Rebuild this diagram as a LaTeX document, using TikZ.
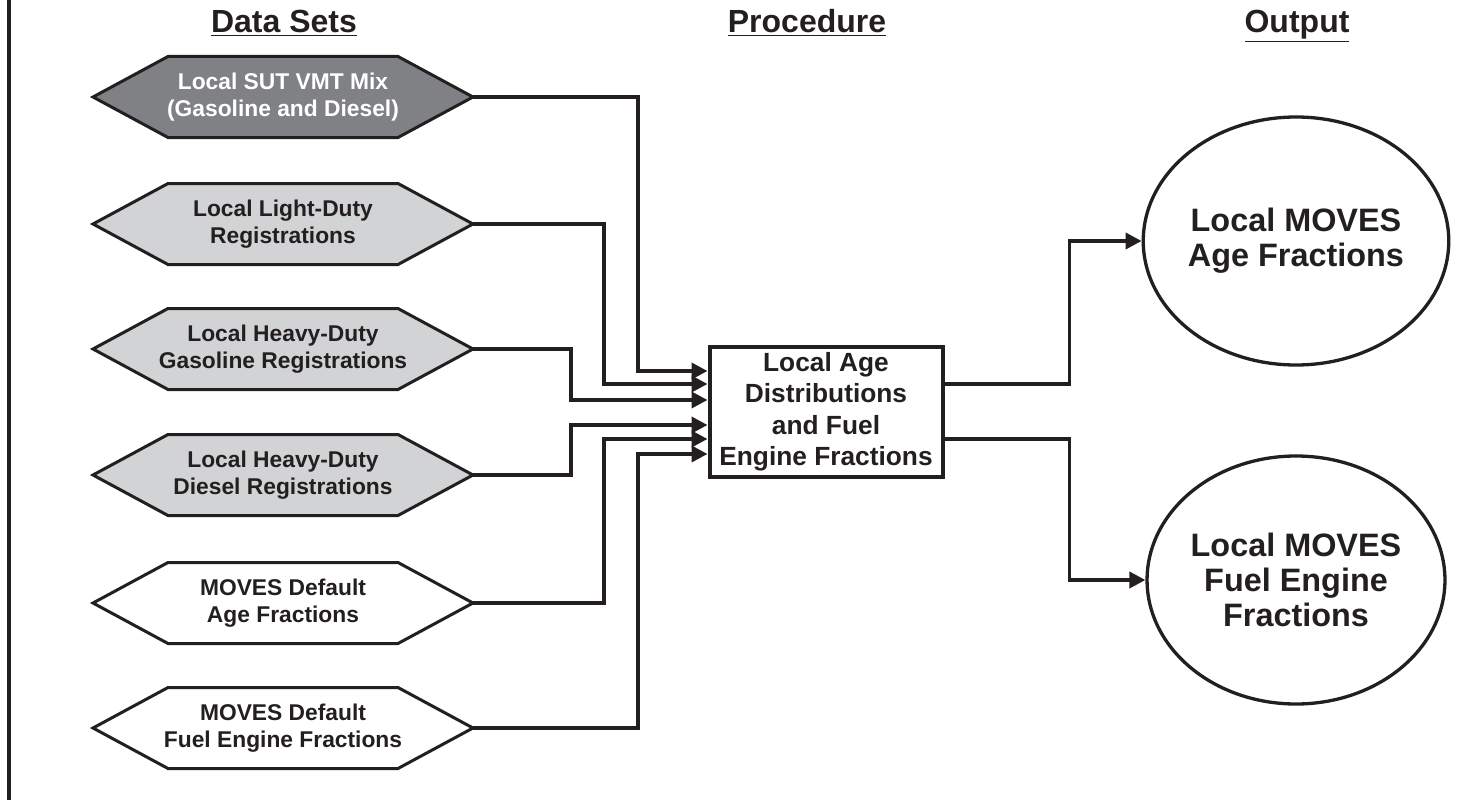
\documentclass[tikz,border=0pt]{standalone}
\usepackage{fontspec}
\setmainfont{Liberation Sans}
\usepackage{xcolor}
\definecolor{inkblack}{HTML}{231F20}
\definecolor{darkgray}{HTML}{808184}
\definecolor{lightgray}{HTML}{D1D3D4}
\usepackage{tikz}
\usetikzlibrary{arrows.meta, positioning, shapes.geometric, backgrounds}

\begin{document}
\begin{tikzpicture}[x=1pt, y=-1pt,
    hexbox/.style={rectangle, minimum width=380pt, minimum height=81pt,
      inner sep=0pt, outer sep=0pt, align=center, text=inkblack,
      font=\bfseries\fontsize{22.8}{27}\selectfont},
    hexline/.style={draw=inkblack, line width=3pt, line join=miter},
    procbox/.style={rectangle, draw=inkblack, line width=4pt, fill=white,
      minimum width=233pt, minimum height=130pt, inner sep=0pt, align=center,
      text=inkblack, font=\bfseries\fontsize{26.3}{31.5}\selectfont},
    outbox/.style={ellipse, draw=inkblack, line width=3.3pt, fill=white,
      minimum width=275pt, minimum height=248pt, inner sep=0pt, align=center,
      text=inkblack, font=\bfseries\fontsize{32.4}{35}\selectfont},
    heading/.style={anchor=base, text=inkblack,
      font=\bfseries\fontsize{32}{36}\selectfont},
    flow/.style={draw=inkblack, line width=3.7pt,
      -{Triangle[length=16pt, width=16pt]}}]
  \useasboundingbox (0,0) rectangle (1469,800);

  % page edge on the left
  \draw[inkblack, line width=3.5pt] (9,0) -- (9,800);

  % column headings
  \node[heading] (ttldata) at (284,33) {\underline{Data Sets}};
  \node[heading] (ttlproc) at (807,33) {\underline{Procedure}};
  \node[heading] (ttlout)  at (1297,33) {\underline{Output}};

  % data sets
  \node[hexbox, text=white] (vmtmix) at (283,97) {Local SUT VMT Mix\\(Gasoline and Diesel)};
  \node[hexbox] (ldreg)   at (283,224) {Local Light-Duty\\Registrations};
  \node[hexbox] (hdgas)   at (283,349) {Local Heavy-Duty\\Gasoline Registrations};
  \node[hexbox] (hddsl)   at (283,475) {Local Heavy-Duty\\Diesel Registrations};
  \node[hexbox] (defage)  at (283,603) {MOVES Default\\Age Fractions};
  \node[hexbox] (deffuel) at (283,728) {MOVES Default\\Fuel Engine Fractions};

  % hexagon outlines behind the data set labels
  \begin{scope}[on background layer]
    \foreach \n/\c in {vmtmix/darkgray, ldreg/lightgray, hdgas/lightgray,
                       hddsl/lightgray, defage/white, deffuel/white}
      \draw[hexline, fill=\c] (\n.west) -- ([xshift=75pt]\n.north west)
        -- ([xshift=-75pt]\n.north east) -- (\n.east)
        -- ([xshift=-75pt]\n.south east) -- ([xshift=75pt]\n.south west) -- cycle;
  \end{scope}

  % procedure
  \node[procbox] (agedist) at (826,412) {Local Age\\Distributions\\and Fuel\\Engine Fractions};

  % output
  \node[outbox] (outage)  at (1296,241) {Local MOVES\\Age Fractions};
  \node[outbox] (outfuel) at (1296,580) {Local MOVES\\Fuel Engine\\Fractions};

  % inputs into the procedure
  \draw[flow] (vmtmix.east)  -- ++(165,0) |- ([yshift=41pt]agedist.west);
  \draw[flow] (ldreg.east)   -- ++(131,0) |- ([yshift=28pt]agedist.west);
  \draw[flow] (hdgas.east)   -- ++(98,0)  |- ([yshift=12pt]agedist.west);
  \draw[flow] (hddsl.east)   -- ++(98,0)  |- ([yshift=-13pt]agedist.west);
  \draw[flow] (defage.east)  -- ++(131,0) |- ([yshift=-27pt]agedist.west);
  \draw[flow] (deffuel.east) -- ++(165,0) |- ([yshift=-42pt]agedist.west);

  % procedure to output
  \draw[flow] ([yshift=28pt]agedist.east)  -- ++(125,0) |- (outage.west);
  \draw[flow] ([yshift=-27pt]agedist.east) -- ++(125,0) |- (outfuel.west);
\end{tikzpicture}
\end{document}
